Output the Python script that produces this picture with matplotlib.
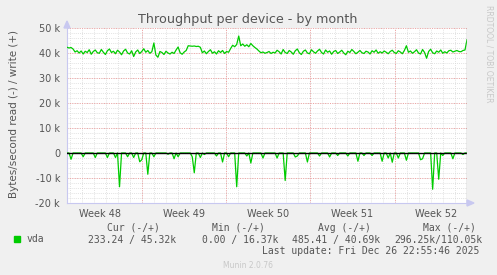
import numpy as np
import matplotlib
matplotlib.use("Agg")
import matplotlib.pyplot as plt

# write throughput (k bytes/s), one value every ~4h over the month
write_k = [
    42.3, 42.0, 42.2, 41.6, 40.4, 40.9, 40.0, 40.8, 39.6, 40.7, 40.2, 41.3, 39.5, 40.6, 41.2, 40.1, 39.9, 41.4, 40.3, 39.4,
    40.9, 41.6, 40.2, 40.7, 39.7, 41.1, 40.4, 39.3, 40.8, 41.5, 40.0, 39.6, 40.9, 38.6, 40.4, 41.2, 39.8, 40.6, 41.7, 40.3,
    41.0, 39.9, 40.5, 44.0, 39.2, 38.3, 40.6, 40.2, 39.4, 40.7, 40.0, 39.6, 40.3, 39.8, 41.2, 42.4, 40.1, 39.5, 40.4, 41.0,
    42.9, 42.8, 42.7, 42.8, 42.6, 42.7, 42.3, 40.1, 40.8, 39.7, 40.6, 41.3, 39.9, 40.5, 39.6, 40.9, 40.2, 41.0, 39.8, 40.6,
    40.3, 41.8, 43.1, 42.5, 43.4, 46.8, 42.9, 43.6, 42.7, 43.3, 42.5, 43.8, 42.9, 42.2, 41.6, 40.8, 40.1, 40.4, 39.9, 40.2,
    40.6, 39.8, 40.3, 40.0, 41.1, 40.5, 39.6, 41.4, 40.2, 39.8, 41.0, 40.4, 39.5, 40.9, 41.6, 40.1, 39.4, 40.7, 41.2, 40.0,
    39.7, 41.3, 40.5, 39.9, 40.8, 41.5, 40.2, 39.6, 41.2, 40.3, 40.8, 39.5, 40.6, 41.0, 39.8, 40.4, 41.1, 40.0, 39.3, 40.7,
    40.2, 41.4, 40.6, 39.7, 40.3, 41.0, 40.1, 39.8, 40.7, 40.4, 39.6, 40.9, 40.3, 41.2, 39.9, 40.5, 40.0, 40.8, 40.3, 39.7,
    40.6, 41.1, 40.2, 39.8, 40.9, 40.4, 39.7, 41.0, 42.9, 40.3, 40.8, 39.9, 40.5, 41.3, 40.0, 39.6, 41.4, 40.2, 37.9, 40.6,
    41.5, 40.1, 39.7, 40.8, 40.3, 41.2, 39.9, 40.5, 40.0, 40.9, 41.1, 40.4, 40.7, 41.0, 40.6, 40.5, 41.0, 41.2, 45.3,
]

# read throughput (k bytes/s, drawn negative), same sampling
read_k = [
    0, 0, -2.5, 0, 0, 0, 0, 0, -1.5, 0, 0, 0, 0, 0, -1.8, 0, 0, 0, 0, 0,
    -1.8, 0, 0, 0, -1.8, 0, -13.5, 0, 0, 0, -1.5, 0, 0, -1.8, 0, 0, -3.5, -2.7, 0, 0,
    -8.5, 0, 0, -1.5, 0, 0, 0, 0, 0, 0, -0.5, 0, 0, -2.3, 0, -1.5, 0, 0, 0, 0,
    0, 0, -1.5, -7.9, 0, 0, -1.8, 0, -0.6, 0, 0, 0, 0, 0, -1.2, 0, 0, -3.6, 0, 0,
    -1.5, 0, 0, 0, -13.5, 0, 0, 0, 0, -1.2, 0, -4.0, 0, 0, 0, 0, 0, -2.0, 0, 0,
    0, 0, 0, 0, -2.0, 0, 0, 0, -11.0, 0, 0, 0, 0, -1.6, -1.2, 0, 0, 0, 0, -3.6,
    0, 0, 0, 0, 0, -1.2, 0, 0, 0, 0, -1.6, 0, 0, 0, -1.0, 0, 0, 0, 0, -1.2,
    0, 0, 0, 0, -3.3, 0, 0, -1.0, 0, 0, 0, -1.0, 0, 0, 0, 0, -3.3, 0, 0, -2.0,
    0, -3.7, 0, 0, -2.0, 0, 0, 0, -2.9, 0, 0, 0, 0, 0, 0, -2.7, -2.3, 0, 0, 0,
    0, -14.5, 0, 0, -10.5, 0, -1.0, 0, 0, 0, 0, -2.3, 0, 0, 0, 0, -0.6, 0, 0,
]

span_days = 33.3
first_week_start = 6.27
week_labels = ["Week 48", "Week 49", "Week 50", "Week 51", "Week 52"]
y_ticks = [-20, -10, 0, 10, 20, 30, 40, 50]
y_tick_labels = ["-20 k", "-10 k", "0", "10 k", "20 k", "30 k", "40 k", "50 k"]

legend_headers = ["Cur (-/+)", "Min (-/+)", "Avg (-/+)", "Max (-/+)"]
legend_values = ["233.24 / 45.32k", "0.00 / 16.37k", "485.41 / 40.69k", "296.25k/110.05k"]
last_update = "Last update: Fri Dec 26 22:55:46 2025"

W, H = 497, 275
BG = "#f0f0f0"
TXT = "#555555"
GREEN = "#00cc00"


def fx(px):
    return px / W


def fy(py):
    return 1 - py / H


fig = plt.figure(figsize=(W / 100, H / 100), dpi=100, facecolor=BG)
ax = fig.add_axes([fx(67), fy(203), 400 / W, 175 / H])
ax.set_facecolor("white")

t = np.linspace(0, span_days, len(write_k))

# grid
day_lines = np.arange(first_week_start - 6, span_days, 1.0)
week_lines = np.arange(first_week_start, span_days, 7.0)
for d in day_lines:
    ax.axvline(d, color="#d8d8d8", lw=0.6, ls=(0, (1, 1.5)), zorder=1)
for v in np.arange(-20, 51, 2):
    ax.axhline(v, color="#d8d8d8", lw=0.6, ls=(0, (1, 1.5)), zorder=1)
for d in week_lines:
    ax.axvline(d, color="#f0a0a0", lw=0.7, ls=(0, (1, 1.5)), zorder=2)
for v in range(-20, 51, 10):
    ax.axhline(v, color="#f0a0a0", lw=0.7, ls=(0, (1, 1.5)), zorder=2)

ax.plot(t, write_k, color=GREEN, lw=0.9, zorder=4)
ax.plot(t, read_k, color=GREEN, lw=0.9, zorder=4)
ax.axhline(0, color="black", lw=1.0, zorder=5)
ax.axvline(span_days, color="#999999", lw=1.0, zorder=5)

ax.set_xlim(0, span_days)
ax.set_ylim(-20, 50)

ax.set_yticks(y_ticks)
ax.set_yticklabels(y_tick_labels)
week_centers = [first_week_start - 3.5 + 7 * i for i in range(len(week_labels))]
ax.set_xticks(week_centers)
ax.set_xticklabels(week_labels)
ax.tick_params(axis="both", length=0, labelsize=7, labelcolor=TXT, pad=5)
ax.tick_params(axis="x", pad=4)

for side in ["top", "right"]:
    ax.spines[side].set_visible(False)
for side in ["left", "bottom"]:
    ax.spines[side].set_color("#c8c8f0")
    ax.spines[side].set_linewidth(0.8)

# axis arrows
fig.patches.append(plt.Polygon([[fx(64), fy(28)], [fx(70), fy(28)], [fx(67), fy(21)]],
                               closed=True, transform=fig.transFigure, color="#c8c8f0"))
fig.patches.append(plt.Polygon([[fx(467), fy(200)], [fx(467), fy(206)], [fx(474), fy(203)]],
                               closed=True, transform=fig.transFigure, color="#c8c8f0"))

fig.text(fx(248), fy(19), "Throughput per device - by month", ha="center", va="center",
         fontsize=9.2, color=TXT)
fig.text(fx(14), fy(114), "Bytes/second read (-) / write (+)", ha="center", va="center",
         rotation=90, fontsize=7.5, color=TXT)
fig.text(fx(489), fy(5), "RRDTOOL / TOBI OETIKER", ha="center", va="top",
         rotation=270, fontsize=5.5, color="#c8c8c8")

# legend
mono = "DejaVu Sans Mono"
fig.patches.append(plt.Rectangle((fx(14), fy(242)), 6 / W, 6 / H,
                                 transform=fig.transFigure, color=GREEN))
fig.text(fx(27), fy(239.5), "vda", ha="left", va="center", fontsize=7, family=mono, color=TXT)
for x, s in zip([107, 212, 318, 423], legend_headers):
    fig.text(fx(x), fy(228), s, ha="left", va="center", fontsize=7, family=mono, color=TXT)
for x, s in zip([88, 202, 292, 394], legend_values):
    fig.text(fx(x), fy(239.5), s, ha="left", va="center", fontsize=7, family=mono, color=TXT)
fig.text(fx(262), fy(251), last_update, ha="left", va="center", fontsize=7, family=mono, color=TXT)
fig.text(fx(248), fy(265), "Munin 2.0.76", ha="center", va="center", fontsize=5.5, color="#c8c8c8")

fig.savefig("out.png", dpi=100, facecolor=BG)
